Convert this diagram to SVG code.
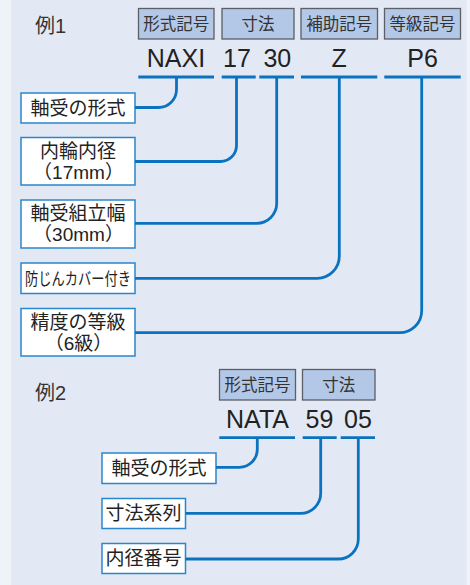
<svg xmlns="http://www.w3.org/2000/svg" width="470" height="585" viewBox="0 0 470 585">
<defs>
<style>
.bg{fill:#eef2f9}
.panel{fill:#e3e9f4}
.hdr rect{fill:#b3c7e6;stroke:#5b5f66;stroke-width:1.3}
.hdr text{font-family:"Liberation Sans","Noto Sans CJK JP",sans-serif;font-size:16.5px;fill:#333;text-anchor:middle}
.code{font-family:"Liberation Sans","Noto Sans CJK JP",sans-serif;font-size:25px;fill:#222;text-anchor:middle}
.title{font-family:"Liberation Sans","Noto Sans CJK JP",sans-serif;font-size:20px;fill:#333}
.lbl rect{fill:#fff;stroke:#2a86cc;stroke-width:1.5}
.lbl text{font-family:"Liberation Sans","Noto Sans CJK JP",sans-serif;font-size:19px;fill:#222;text-anchor:middle}
.conn path,.conn line{fill:none;stroke:#0b72c0;stroke-width:2.8}
</style>
</defs>
<rect class="bg" x="0" y="0" width="470" height="585"/>
<rect class="panel" x="11" y="0" width="455.5" height="585"/>

<!-- Example 1 -->
<text class="title" x="35" y="33">例1</text>
<g id="h1-form" class="hdr"><rect x="138.5" y="8.5" width="75.5" height="30.5"/><text x="176.2" y="30">形式記号</text></g>
<g id="h1-dim" class="hdr"><rect x="222" y="8.5" width="72" height="30.5"/><text x="258" y="30">寸法</text></g>
<g id="h1-aux" class="hdr"><rect x="301" y="8.5" width="76.5" height="30.5"/><text x="339.2" y="30">補助記号</text></g>
<g id="h1-grade" class="hdr"><rect x="384.5" y="8.5" width="76" height="30.5"/><text x="422.5" y="30">等級記号</text></g>

<g id="c1-naxi"><text class="code" x="176" y="67.3">NAXI</text></g>
<g id="c1-17"><text class="code" x="237" y="67.3">17</text></g>
<g id="c1-30"><text class="code" x="277.3" y="67.3">30</text></g>
<g id="c1-z"><text class="code" x="339.2" y="67.3">Z</text></g>
<g id="c1-p6"><text class="code" x="422.5" y="67.3">P6</text></g>

<g id="l1-type" class="lbl"><rect x="21" y="93" width="114" height="30"/><text x="78" y="114.5">軸受の形式</text></g>
<g id="l1-bore" class="lbl"><rect x="21" y="137.5" width="114" height="47.5"/><text x="78" y="157.5">内輪内径</text><text x="78.5" y="179">（17mm）</text></g>
<g id="l1-width" class="lbl"><rect x="21" y="200" width="114" height="48"/><text x="78" y="219.5">軸受組立幅</text><text x="78.5" y="241">（30mm）</text></g>
<g id="l1-shield" class="lbl"><rect x="21" y="263" width="114" height="30.5"/><text x="78" y="285" style="font-size:17px" textLength="106" lengthAdjust="spacingAndGlyphs">防じんカバー付き</text></g>
<g id="l1-grade" class="lbl"><rect x="21" y="308.5" width="114" height="47.5"/><text x="78" y="328.5">精度の等級</text><text x="78.5" y="350">（6級）</text></g>

<!-- Example 2 -->
<text class="title" x="35" y="400">例2</text>
<g id="h2-form" class="hdr"><rect x="219.5" y="369.5" width="76" height="30.5"/><text x="257.5" y="391">形式記号</text></g>
<g id="h2-dim" class="hdr"><rect x="302.5" y="369.5" width="72.5" height="30.5"/><text x="338.7" y="391">寸法</text></g>

<g id="c2-nata"><text class="code" x="257.5" y="428.3">NATA</text></g>
<g id="c2-59"><text class="code" x="319.5" y="428.3">59</text></g>
<g id="c2-05"><text class="code" x="358" y="428.3">05</text></g>

<g id="l2-type" class="lbl"><rect x="102" y="453" width="114" height="30.5"/><text x="159" y="475">軸受の形式</text></g>
<g id="l2-series" class="lbl"><rect x="102" y="498.5" width="83.5" height="30"/><text x="143.5" y="520">寸法系列</text></g>
<g id="l2-boreno" class="lbl"><rect x="102" y="543.5" width="83.5" height="30"/><text x="143.5" y="565">内径番号</text></g>

<g id="connectors" class="conn">
<line x1="138.3" y1="77" x2="214" y2="77"/>
<line x1="221.7" y1="77" x2="255.7" y2="77"/>
<line x1="259.3" y1="77" x2="294" y2="77"/>
<line x1="301" y1="77" x2="377.3" y2="77"/>
<line x1="384.3" y1="77" x2="460.7" y2="77"/>
<path d="M176.5,77 V89.5 A18,18 0 0 1 158.5,107.5 H135"/>
<path d="M236.5,77 V145.5 A16,16 0 0 1 220.5,161.5 H135"/>
<path d="M276.7,77 V203.3 A20,20 0 0 1 256.7,223.3 H135"/>
<path d="M339.3,77 V256.3 A22,22 0 0 1 317.3,278.3 H135"/>
<path d="M421.7,77 V310.7 A22,22 0 0 1 399.7,332.7 H135"/>

<line x1="219.3" y1="437.7" x2="295" y2="437.7"/>
<line x1="302.7" y1="437.7" x2="336.7" y2="437.7"/>
<line x1="340.7" y1="437.7" x2="375" y2="437.7"/>
<path d="M257.3,437.7 V449.3 A18,18 0 0 1 239.3,467.3 H216"/>
<path d="M320.7,437.7 V493.3 A20,20 0 0 1 300.7,513.3 H185.5"/>
<path d="M358.3,437.7 V539 A20,20 0 0 1 338.3,559 H185.5"/>
</g>
</svg>
